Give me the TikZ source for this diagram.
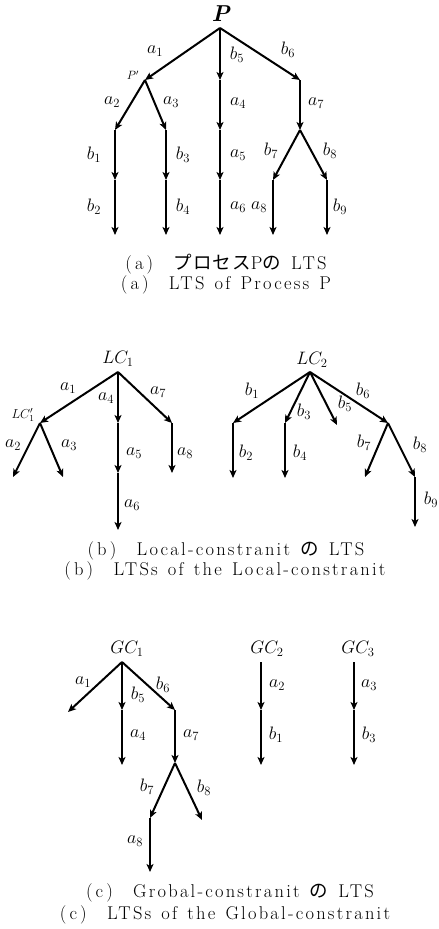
\RequirePackage{fix-cm}
\documentclass[tikz,border=0pt]{standalone}
\usepackage{fontspec}
\newfontfamily\jp[LetterSpace=6]{Noto Sans CJK JP}
\newfontfamily\capfont[LetterSpace=12,WordSpace=1.3]{Latin Modern Roman}
\usetikzlibrary{arrows.meta}
\begin{document}
\begin{tikzpicture}[x=1pt,y=-1pt,
  arr/.style={line width=2pt,-{Stealth[length=8pt,width=7pt,inset=2pt]}},
  lab/.style={inner sep=0pt,font=\fontsize{18}{20}\selectfont},
  rootlab/.style={inner sep=0pt,font=\fontsize{18}{20}\selectfont},
  captxt/.style={inner sep=0pt,font=\fontsize{18.5}{20}\selectfont\capfont}]
\useasboundingbox (0,0) rectangle (439,929);
% ---------------- (a)
\node[inner sep=0pt,font=\fontsize{23}{25}\selectfont] (Plab) at (221,14) {\textbf{\textit{P}}};
\node[inner sep=0pt,font=\fontsize{12}{13}\selectfont] (Pplab) at (133,75) {$P'$};
\coordinate (P) at (220,28);
\coordinate (Pp) at (145,80);
\coordinate (Pm1) at (220,80);
\coordinate (Pr1) at (300,80);
\coordinate (Pl2) at (115,130);
\coordinate (Pl2b) at (166,130);
\coordinate (Pm2) at (220,130);
\coordinate (Pr2) at (300,130);
\coordinate (Pl3) at (115,180);
\coordinate (Pl3b) at (166,180);
\coordinate (Pm3) at (220,180);
\coordinate (Pr3a) at (273,180);
\coordinate (Pr3b) at (327,180);
\coordinate (Pl4) at (115,235);
\coordinate (Pl4b) at (166,235);
\coordinate (Pm4) at (220,235);
\coordinate (Pr4a) at (273,235);
\coordinate (Pr4b) at (327,235);
\draw[arr] (P) -- (Pp);
\draw[arr] (P) -- (Pm1);
\draw[arr] (P) -- (Pr1);
\draw[arr] (Pp) -- (Pl2);
\draw[arr] (Pp) -- (Pl2b);
\draw[arr] (Pm1) -- (Pm2);
\draw[arr] (Pr1) -- (Pr2);
\draw[arr] (Pl2) -- (Pl3);
\draw[arr] (Pl2b) -- (Pl3b);
\draw[arr] (Pm2) -- (Pm3);
\draw[arr] (Pr2) -- (Pr3a);
\draw[arr] (Pr2) -- (Pr3b);
\draw[arr] (Pl3) -- (Pl4);
\draw[arr] (Pl3b) -- (Pl4b);
\draw[arr] (Pm3) -- (Pm4);
\draw[arr] (Pr3a) -- (Pr4a);
\draw[arr] (Pr3b) -- (Pr4b);
\node[lab] (la1) at (155,51) {$a_1$};
\node[lab] (lb5) at (237,55) {$b_5$};
\node[lab] (lb6) at (288,50) {$b_6$};
\node[lab] (la2) at (112,102) {$a_2$};
\node[lab] (la3) at (171,102) {$a_3$};
\node[lab] (la4) at (238,103) {$a_4$};
\node[lab] (la7) at (316,103) {$a_7$};
\node[lab] (lb1) at (94,155) {$b_1$};
\node[lab] (lb3) at (183,155) {$b_3$};
\node[lab] (la5) at (238,155) {$a_5$};
\node[lab] (lb7) at (271,151) {$b_7$};
\node[lab] (lb8) at (330,151) {$b_8$};
\node[lab] (lb2) at (94,207) {$b_2$};
\node[lab] (lb4) at (183,207) {$b_4$};
\node[lab] (la6) at (238,207) {$a_6$};
\node[lab] (la8) at (259,207) {$a_8$};
\node[lab] (lb9) at (340,207) {$b_9$};
\node[captxt] (capa1) at (226,264) {(\,a\,)\hspace{1.1em}{\jp プロセス}P{\jp の} LTS};
\node[captxt] (capa2) at (226,285) {(\,a\,)\hspace{1.1em}LTS of Process P};
% ---------------- (b) LC1
\node[rootlab] (LC1lab) at (118,359) {$LC_1$};
\node[inner sep=0pt,font=\fontsize{13}{14}\selectfont] (LCp1lab) at (23,415) {$LC'_1$};
\coordinate (L) at (118,372);
\coordinate (Lp) at (40,423);
\coordinate (Lm1) at (118,423);
\coordinate (Lr1) at (172,423);
\coordinate (Lpl) at (13,477);
\coordinate (Lpr) at (63,477);
\coordinate (Lm2) at (118,473);
\coordinate (Lr2) at (172,473);
\coordinate (Lm3) at (118,530);
\draw[arr] (L) -- (Lp);
\draw[arr] (L) -- (Lm1);
\draw[arr] (L) -- (Lr1);
\draw[arr] (Lp) -- (Lpl);
\draw[arr] (Lp) -- (Lpr);
\draw[arr] (Lm1) -- (Lm2);
\draw[arr] (Lr1) -- (Lr2);
\draw[arr] (Lm2) -- (Lm3);
\node[lab] (lLa1) at (68,388) {$a_1$};
\node[lab] (lLa4) at (106,398) {$a_4$};
\node[lab] (lLa7) at (158,392) {$a_7$};
\node[lab] (lLa2) at (13,445) {$a_2$};
\node[lab] (lLa3) at (69,445) {$a_3$};
\node[lab] (lLa5) at (134,453) {$a_5$};
\node[lab] (lLa8) at (185,453) {$a_8$};
\node[lab] (lLa6) at (132,505) {$a_6$};
% ---------------- (b) LC2
\node[rootlab] (LC2lab) at (312,360) {$LC_2$};
\coordinate (K) at (310,372);
\coordinate (Kb1) at (233,423);
\coordinate (Kb3) at (285,423);
\coordinate (Kb5) at (337,425);
\coordinate (Kb6) at (388,423);
\coordinate (Kb2) at (233,478);
\coordinate (Kb4) at (285,478);
\coordinate (Kb7) at (365,477);
\coordinate (Kb8) at (415,477);
\coordinate (Kb9) at (415,527);
\draw[arr] (K) -- (Kb1);
\draw[arr] (K) -- (Kb3);
\draw[arr] (K) -- (Kb5);
\draw[arr] (K) -- (Kb6);
\draw[arr] (Kb1) -- (Kb2);
\draw[arr] (Kb3) -- (Kb4);
\draw[arr] (Kb6) -- (Kb7);
\draw[arr] (Kb6) -- (Kb8);
\draw[arr] (Kb8) -- (Kb9);
\node[lab] (lKb1) at (252,391) {$b_1$};
\node[lab] (lKb3) at (304,412) {$b_3$};
\node[lab] (lKb5) at (345,404) {$b_5$};
\node[lab] (lKb6) at (363,391) {$b_6$};
\node[lab] (lKb2) at (246,453) {$b_2$};
\node[lab] (lKb4) at (300,453) {$b_4$};
\node[lab] (lKb7) at (364,443) {$b_7$};
\node[lab] (lKb8) at (420,445) {$b_8$};
\node[lab] (lKb9) at (431,500) {$b_9$};
\node[captxt] (capb1) at (226,551) {(\,b\,)\hspace{1.1em}Local-constranit {\jp の} LTS};
\node[captxt] (capb2) at (225,571) {(\,b\,)\hspace{1.1em}LTSs of the Local-constranit};
% ---------------- (c) GC1
\node[rootlab] (GC1lab) at (127,649) {$GC_1$};
\coordinate (G) at (122,662);
\coordinate (Ga1) at (68,712);
\coordinate (Gb5) at (122,710);
\coordinate (Gb6) at (175,710);
\coordinate (Ga4) at (122,765);
\coordinate (Ga7) at (175,763);
\coordinate (Gb7) at (150,818);
\coordinate (Gb8) at (202,820);
\coordinate (Ga8) at (150,872);
\draw[arr] (G) -- (Ga1);
\draw[arr] (G) -- (Gb5);
\draw[arr] (G) -- (Gb6);
\draw[arr] (Gb5) -- (Ga4);
\draw[arr] (Gb6) -- (Ga7);
\draw[arr] (Ga7) -- (Gb7);
\draw[arr] (Ga7) -- (Gb8);
\draw[arr] (Gb7) -- (Ga8);
\node[lab] (lGa1) at (83,682) {$a_1$};
\node[lab] (lGb5) at (138,695) {$b_5$};
\node[lab] (lGb6) at (163,685) {$b_6$};
\node[lab] (lGa4) at (138,735) {$a_4$};
\node[lab] (lGa7) at (191,735) {$a_7$};
\node[lab] (lGb7) at (147,787) {$b_7$};
\node[lab] (lGb8) at (204,788) {$b_8$};
\node[lab] (lGa8) at (135,841) {$a_8$};
% ---------------- (c) GC2, GC3
\node[rootlab] (GC2lab) at (267,649) {$GC_2$};
\coordinate (H) at (261,662);
\coordinate (Ha2) at (261,710);
\coordinate (Hb1) at (261,765);
\draw[arr] (H) -- (Ha2);
\draw[arr] (Ha2) -- (Hb1);
\node[lab] (lHa2) at (277,685) {$a_2$};
\node[lab] (lHb1) at (276,735) {$b_1$};
\node[rootlab] (GC3lab) at (358,649) {$GC_3$};
\coordinate (J) at (354,662);
\coordinate (Ja3) at (354,710);
\coordinate (Jb3) at (354,765);
\draw[arr] (J) -- (Ja3);
\draw[arr] (Ja3) -- (Jb3);
\node[lab] (lJa3) at (369,685) {$a_3$};
\node[lab] (lJb3) at (369,735) {$b_3$};
\node[captxt] (capc1) at (230,893) {(\,c\,)\hspace{1.1em}Grobal-constranit {\jp の} LTS};
\node[captxt] (capc2) at (225,915) {(\,c\,)\hspace{1.1em}LTSs of the Global-constranit};
\end{tikzpicture}
\end{document}
